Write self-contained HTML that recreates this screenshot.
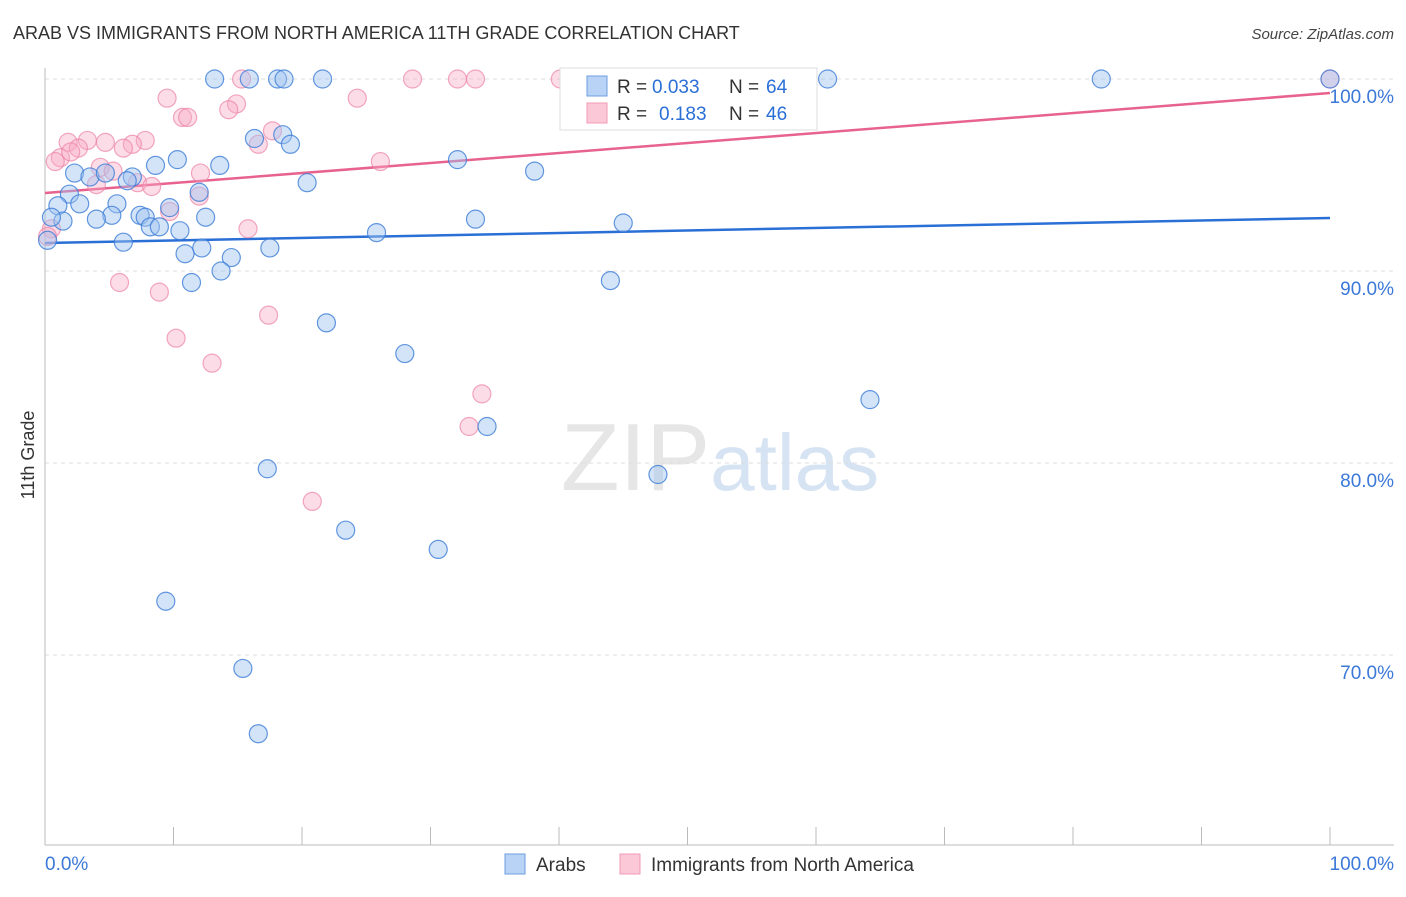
<!DOCTYPE html>
<html><head><meta charset="utf-8"><style>
body{margin:0;background:#fff;font-family:"Liberation Sans",sans-serif}
svg text{font-family:"Liberation Sans",sans-serif}
</style></head><body>
<svg id="chart" width="1406" height="892" viewBox="0 0 1406 892" xmlns="http://www.w3.org/2000/svg">
<text x="13" y="39" font-size="18" fill="#333">ARAB VS IMMIGRANTS FROM NORTH AMERICA 11TH GRADE CORRELATION CHART</text>
<text x="1394" y="39" font-size="15" font-style="italic" fill="#444" text-anchor="end">Source: ZipAtlas.com</text>
<text x="720" y="490" font-size="96" text-anchor="middle" fill="#e6e6e6" font-family="Liberation Serif">ZIP<tspan fill="#d6e3f3" font-family="Liberation Sans" font-size="80">atlas</tspan></text>
<g id="grid"></g>
<g id="axes"></g>
<line id="tb" stroke="#2a6fd6" stroke-width="2.5"/>
<line id="tp" stroke="#e8628e" stroke-width="2.5"/>
<g id="pts"></g>
<text transform="translate(34,455) rotate(-90)" font-size="18" fill="#333" text-anchor="middle">11th Grade</text>
<g>
<rect x="560" y="68" width="257" height="62" fill="#fff" stroke="#ddd"/>
<rect x="587" y="76" width="20" height="20" fill="#b8d3f5" stroke="#6e9fe0"/>
<rect x="587" y="103" width="20" height="20" fill="#fbc8d7" stroke="#f09ab5"/>
<text x="617" y="93" font-size="19" fill="#333">R =</text>
<text x="652" y="93" font-size="19" fill="#2a6fd6">0.033</text>
<text x="729" y="93" font-size="19" fill="#333">N =</text>
<text x="766" y="93" font-size="19" fill="#2a6fd6">64</text>
<text x="617" y="120" font-size="19" fill="#333">R =</text>
<text x="659" y="120" font-size="19" fill="#2a6fd6">0.183</text>
<text x="729" y="120" font-size="19" fill="#333">N =</text>
<text x="766" y="120" font-size="19" fill="#2a6fd6">46</text>
</g>
<g>
<rect x="505" y="854" width="20" height="20" fill="#b8d3f5" stroke="#6e9fe0"/>
<text x="536" y="871" font-size="19" fill="#333">Arabs</text>
<rect x="620" y="854" width="20" height="20" fill="#fbc8d7" stroke="#f09ab5"/>
<text x="651" y="871" font-size="19" fill="#333">Immigrants from North America</text>
</g>
</svg>
<script>
const yTicks=[100,90,80,70];
const xTickLabels=["0.0%","100.0%"];
const arabsX=[13.2,15.9,18.1,18.6,21.6,60.9,82.2,100,16.3,18.5,19.1,10.3,8.6,13.6,32.1,38.1,20.4,2.3,3.5,4.7,6.8,6.4,1.9,2.7,1.0,5.6,5.2,7.4,12.0,9.7,12.5,33.5,45.0,4.0,1.4,7.8,8.2,8.9,10.5,25.8,6.1,12.2,17.5,10.9,14.5,13.7,11.4,44.0,0.2,0.5,21.9,28.0,64.2,34.4,17.3,47.7,23.4,30.6,9.4,15.4,16.6];
const arabsY=[100,100,100,100,100,100,100,100,96.9,97.1,96.6,95.8,95.5,95.5,95.8,95.2,94.6,95.1,94.9,95.1,94.9,94.7,94.0,93.5,93.4,93.5,92.9,92.9,94.1,93.3,92.8,92.7,92.5,92.7,92.6,92.8,92.3,92.3,92.1,92.0,91.5,91.2,91.2,90.9,90.7,90.0,89.4,89.5,91.6,92.8,87.3,85.7,83.3,81.9,79.7,79.4,76.5,75.5,72.8,69.3,65.9];
const immX=[15.3,28.6,32.1,33.5,40.1,41.5,46.9,100,9.5,14.9,24.3,14.3,10.7,11.1,17.7,16.6,1.8,3.3,4.7,7.8,6.8,6.1,2.6,1.2,0.8,4.3,2.0,5.3,7.2,8.3,4.0,12.0,12.1,26.1,9.7,15.8,5.8,8.9,17.4,10.2,13.0,34.0,33.0,20.8,0.5,0.2];
const immY=[100,100,100,100,100,100,100,100,99.0,98.7,99.0,98.4,98.0,98.0,97.3,96.6,96.7,96.8,96.7,96.8,96.6,96.4,96.4,95.9,95.7,95.4,96.2,95.2,94.6,94.4,94.5,93.9,95.1,95.7,93.1,92.2,89.4,88.9,87.7,86.5,85.2,83.6,81.9,78.0,92.2,91.8];
const arabsTrend=[91.46,92.76];
const immTrend=[94.06,99.27];
const NS="http://www.w3.org/2000/svg";
const X0=45,X1=1330,Y100=79,PPU=19.2;
const sx=v=>X0+(X1-X0)*v/100;
const sy=v=>Y100+(100-v)*PPU;
function mk(t,a,p){const e=document.createElementNS(NS,t);for(const k in a)e.setAttribute(k,a[k]);p.appendChild(e);return e;}
const grid=document.getElementById('grid'),axes=document.getElementById('axes'),pts=document.getElementById('pts');
yTicks.forEach(v=>{
 const l=mk('line',{x1:X0,x2:1394,y1:sy(v),y2:sy(v),stroke:'#ddd','stroke-dasharray':'4,4'},grid);
 
 
 const t=mk('text',{x:1394,y:sy(v)+24,'font-size':19,fill:'#3b78d8','text-anchor':'end'},axes);
 t.textContent=v.toFixed(1)+'%';
 
 
});
const ax=mk('line',{x1:X0,x2:X0,y1:68,y2:845,stroke:'#bbb'},axes);


const bx=mk('line',{x1:X0,x2:1394,y1:845,y2:845,stroke:'#bbb'},axes);


for(let i=0;i<=10;i++){const x=X0+i*(X1-X0)/10;const tk=mk('line',{x1:x,x2:x,y1:827,y2:845,stroke:'#bbb'},axes);
 
 }
xTickLabels.forEach((s,i)=>{const t=mk('text',{x:i?1394:45,y:870,'font-size':19,fill:'#3b78d8','text-anchor':i?'end':'start'},axes);t.textContent=s;
 
 });
function dots(xs,ys,fill,stroke,name){xs.forEach((x,i)=>{const c=mk('circle',{cx:sx(x),cy:sy(ys[i]),r:9,fill:fill,stroke:stroke,'stroke-width':1.2},pts);
 
 });}
dots(immX,immY,'rgba(248,170,195,0.4)','rgba(236,130,165,0.7)','immigrants-point');
dots(arabsX,arabsY,'rgba(160,195,240,0.45)','rgba(60,125,215,0.8)','arabs-point');
const tb=document.getElementById('tb');tb.setAttribute('x1',sx(0));tb.setAttribute('x2',sx(100));tb.setAttribute('y1',sy(arabsTrend[0]));tb.setAttribute('y2',sy(arabsTrend[1]));
const tp=document.getElementById('tp');tp.setAttribute('x1',sx(0));tp.setAttribute('x2',sx(100));tp.setAttribute('y1',sy(immTrend[0]));tp.setAttribute('y2',sy(immTrend[1]));
</script>
</body></html>
